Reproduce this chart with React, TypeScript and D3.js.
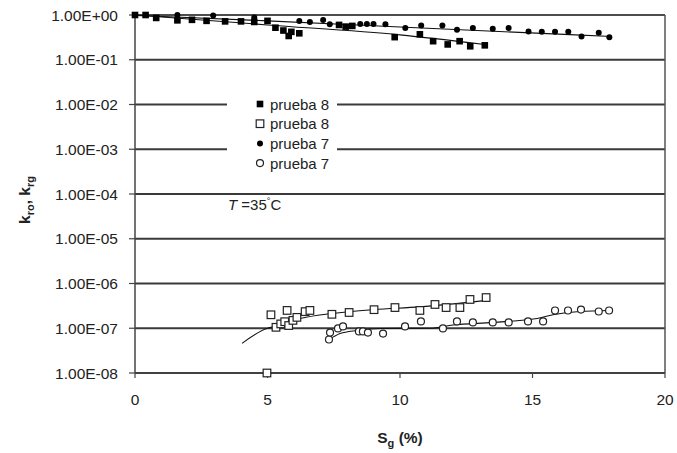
import React from "react";
import * as d3 from "d3";

// ---- data ----
const xTicks = [0, 5, 10, 15, 20];
const yTicks = [1, 1e-1, 1e-2, 1e-3, 1e-4, 1e-5, 1e-6, 1e-7, 1e-8];
const yTickLabels = ["1.00E+00", "1.00E-01", "1.00E-02", "1.00E-03", "1.00E-04", "1.00E-05", "1.00E-06", "1.00E-07", "1.00E-08"];

// prueba 8 – kro (filled squares)
const p8kro: [number, number][] = [
  [0, 1.0], [0.4, 1.0], [0.8, 0.86], [1.6, 0.76], [2.15, 0.78], [2.7, 0.74], [3.4, 0.72], [4.0, 0.72],
  [4.5, 0.7], [5.0, 0.74], [5.3, 0.52], [5.6, 0.45], [5.8, 0.34], [5.9, 0.42], [6.2, 0.39],
  [7.7, 0.6], [7.95, 0.55], [8.2, 0.57], [9.8, 0.32], [10.75, 0.37], [11.25, 0.26], [11.8, 0.22],
  [12.25, 0.26], [12.65, 0.2], [13.2, 0.21],
];
// prueba 8 – krg (open squares)
const p8krg: [number, number][] = [
  [4.98, 1.0e-8], [5.13, 2.0e-7], [5.32, 1.05e-7], [5.5, 1.25e-7], [5.65, 1.4e-7], [5.74, 2.5e-7],
  [5.8, 1.15e-7], [5.96, 1.5e-7], [6.11, 1.75e-7], [6.42, 2.35e-7], [6.6, 2.5e-7], [7.43, 2.05e-7],
  [8.08, 2.25e-7], [9.02, 2.6e-7], [9.81, 2.9e-7], [10.75, 2.5e-7], [11.32, 3.4e-7], [11.74, 2.9e-7],
  [12.26, 2.9e-7], [12.64, 4.4e-7], [13.25, 4.85e-7],
];
// prueba 7 – kro (filled circles)
const p7kro: [number, number][] = [
  [0, 1.0], [1.6, 1.0], [2.95, 0.98], [4.5, 0.88], [6.2, 0.73], [6.6, 0.7], [7.1, 0.77], [7.35, 0.62],
  [8.5, 0.63], [8.75, 0.63], [9.0, 0.63], [9.45, 0.62], [10.2, 0.51], [10.8, 0.58], [11.6, 0.58],
  [12.15, 0.47], [12.75, 0.51], [13.5, 0.49], [14.1, 0.51], [14.85, 0.43], [15.35, 0.42], [15.85, 0.42],
  [16.35, 0.42], [16.85, 0.33], [17.5, 0.4], [17.9, 0.32],
];
// prueba 7 – krg (open circles)
const p7krg: [number, number][] = [
  [7.32, 5.6e-8], [7.36, 8.0e-8], [7.66, 9.9e-8], [7.85, 1.1e-7], [8.45, 8.5e-8], [8.6, 8.5e-8],
  [8.79, 8.0e-8], [9.36, 7.6e-8], [10.19, 1.1e-7], [10.79, 1.42e-7], [11.62, 9.9e-8], [12.15, 1.42e-7],
  [12.75, 1.35e-7], [13.5, 1.35e-7], [14.1, 1.35e-7], [14.83, 1.42e-7], [15.4, 1.42e-7], [15.85, 2.49e-7],
  [16.34, 2.49e-7], [16.83, 2.62e-7], [17.5, 2.37e-7], [17.89, 2.49e-7],
];

// trend curves
const fit8kro: [number, number][] = [[0, 1.0], [5, 0.6], [10, 0.36], [13.2, 0.22]];
const fit7kro: [number, number][] = [[0, 0.98], [5, 0.74], [10, 0.54], [18, 0.33]];
const fit8krg: [number, number][] = [
  [4.04, 4.6e-8], [5.0, 1.0e-7], [5.32, 1.1e-7], [6.23, 1.65e-7], [7.43, 2.14e-7], [9.02, 2.62e-7],
  [10.75, 3.0e-7], [13.25, 4.2e-7],
];
const fit7krg: [number, number][] = [
  [7.32, 5.6e-8], [7.74, 7.6e-8], [8.38, 8.9e-8], [9.25, 9.9e-8], [11.13, 1.0e-7], [12.0, 1.18e-7],
  [13.5, 1.35e-7], [15.17, 1.65e-7], [15.77, 2.0e-7], [16.79, 2.37e-7], [17.92, 2.49e-7],
];

const legendItems = [
  { label: "prueba 8", kind: "sqFilled" },
  { label: "prueba 8", kind: "sqOpen" },
  { label: "prueba 7", kind: "circFilled" },
  { label: "prueba 7", kind: "circOpen" },
];

const W = 677;
const H = 453;
const left = 135, right = 665, top = 15, bottom = 373;
const font = "'Liberation Sans', Arial, sans-serif";

function Marker({ kind, x, y }: { kind: string; x: number; y: number }) {
  if (kind === "sqFilled") return <rect x={x - 3.3} y={y - 3.3} width={6.6} height={6.6} fill="#000" />;
  if (kind === "sqOpen")
    return <rect x={x - 3.8} y={y - 3.8} width={7.6} height={7.6} fill="#fff" stroke="#222" strokeWidth={1.2} />;
  if (kind === "circFilled") return <circle cx={x} cy={y} r={3} fill="#000" />;
  return <circle cx={x} cy={y} r={3.5} fill="#fff" stroke="#222" strokeWidth={1.2} />;
}

export default function App() {
  const x = d3.scaleLinear().domain([0, 20]).range([left, right]);
  const y = d3.scaleLog().domain([1e-8, 1]).range([bottom, top]);
  const line = d3
    .line<[number, number]>()
    .x((d) => x(d[0]))
    .y((d) => y(d[1]))
    .curve(d3.curveMonotoneX);

  const series = [
    { data: p8kro, kind: "sqFilled" },
    { data: p7kro, kind: "circFilled" },
    { data: p8krg, kind: "sqOpen" },
    { data: p7krg, kind: "circOpen" },
  ];

  return (
    <svg width={W} height={H} style={{ position: "absolute", left: 0, top: 0, background: "#fff" }} fontFamily={font}>
      <rect x={0} y={0} width={W} height={H} fill="#fff" />
      {/* gridlines */}
      {yTicks.map((t, i) => (
        <line key={"g" + i} x1={left} x2={right} y1={y(t)} y2={y(t)} stroke="#3a3a3a" strokeWidth={2} />
      ))}
      {/* frame */}
      <line x1={left} x2={right} y1={top} y2={top} stroke="#555" strokeWidth={1.5} />
      <line x1={right} x2={right} y1={top} y2={bottom} stroke="#555" strokeWidth={1.5} />
      {/* legend background */}
      <rect x={227} y={92} width={110} height={82} fill="#fff" />
      {/* axes */}
      <line x1={left} x2={left} y1={top} y2={bottom} stroke="#444" strokeWidth={1.5} />
      <line x1={left} x2={right} y1={bottom} y2={bottom} stroke="#444" strokeWidth={1.5} />
      {yTicks.map((t, i) => (
        <g key={"yt" + i}>
          <line x1={left - 6} x2={left} y1={y(t)} y2={y(t)} stroke="#444" strokeWidth={1.2} />
          <text x={118} y={y(t) + 5.5} textAnchor="end" fontSize={15.5} fill="#222">
            {yTickLabels[i]}
          </text>
        </g>
      ))}
      {xTicks.map((t, i) => (
        <g key={"xt" + i}>
          <line x1={x(t)} x2={x(t)} y1={bottom} y2={bottom + 5} stroke="#444" strokeWidth={1.2} />
          <text x={x(t)} y={405} textAnchor="middle" fontSize={15.5} fill="#222">
            {t}
          </text>
        </g>
      ))}
      {/* trend lines */}
      {[fit8kro, fit7kro, fit8krg, fit7krg].map((d, i) => (
        <path key={"f" + i} d={line(d) || ""} fill="none" stroke="#111" strokeWidth={1.1} />
      ))}
      {/* points */}
      {series.map((s, si) =>
        s.data.map((d, i) => <Marker key={si + "-" + i} kind={s.kind} x={x(d[0])} y={y(d[1])} />)
      )}
      {/* legend */}
      {legendItems.map((it, i) => (
        <g key={"l" + i}>
          <Marker kind={it.kind} x={260} y={104 + i * 19.7} />
          <text x={270} y={104 + i * 19.7 + 5.5} fontSize={15} fill="#222">
            {it.label}
          </text>
        </g>
      ))}
      {/* temperature */}
      <text x={228} y={210} fontSize={15} fill="#222">
        <tspan fontStyle="italic">T</tspan>
        <tspan> =35</tspan>
        <tspan fontSize={9} dy={-6}>°</tspan>
        <tspan dy={6}>C</tspan>
      </text>
      {/* axis titles */}
      <text
        transform={`translate(30, 200) rotate(-90)`}
        textAnchor="middle"
        fontSize={15.5}
        fontWeight="bold"
        fill="#222"
      >
        k<tspan fontSize={11} dy={4}>ro</tspan>
        <tspan dy={-4}>, k</tspan>
        <tspan fontSize={11} dy={4}>rg</tspan>
      </text>
      <text x={400} y={443} textAnchor="middle" fontSize={15.5} fontWeight="bold" fill="#222">
        S<tspan fontSize={11} dy={4}>g</tspan>
        <tspan dy={-4}> (%)</tspan>
      </text>
    </svg>
  );
}
